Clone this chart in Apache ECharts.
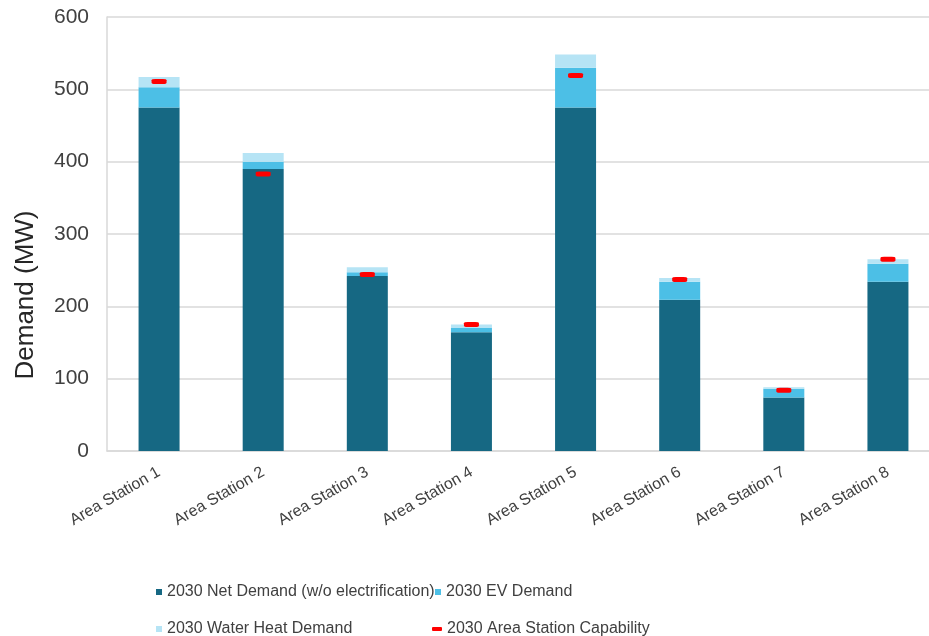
<!DOCTYPE html>
<html>
<head>
<meta charset="utf-8">
<title>2030 Area Station Demand</title>
<script src="https://cdn.jsdelivr.net/npm/echarts@6/dist/echarts.min.js"></script>
<style>
  html, body { margin: 0; padding: 0; background: #ffffff; overflow: hidden; }
  /* The plot area runs a little past the right edge of the window */
  #chart { width: 940px; height: 636px; }
</style>
</head>
<body>
<div id="chart"></div>
<script>
// Area stations and their 2030 demand components (MW)
const categories = ['Area Station 1', 'Area Station 2', 'Area Station 3', 'Area Station 4',
                    'Area Station 5', 'Area Station 6', 'Area Station 7', 'Area Station 8'];
const netDemand  = [475, 390, 242, 164, 475, 209, 74, 234];
const evDemand   = [28, 10, 5, 6, 55, 25, 12, 25];
const waterHeat  = [14, 12, 7, 5, 18, 5, 2, 6];
const capability = [511, 383, 244, 175, 519, 237, 84, 265];
const yTicks = { min: 0, max: 600, interval: 100 };

const FONT = '"Liberation Sans", Arial, sans-serif';
const TEXT = '#404040';

const names = {
  net: '2030 Net Demand (w/o electrification)',
  ev: '2030 EV Demand',
  water: '2030 Water Heat Demand',
  cap: '2030 Area Station Capability'
};
const colors = { net: '#166883', ev: '#4cbfe6', water: '#b6e4f5', cap: '#ff0000' };

// One legend entry per block so the two rows line up as columns
function legendEntry(name, left, top, icon, w, h) {
  return {
    left: left,
    top: top,
    itemWidth: w,
    itemHeight: h,
    selectedMode: false,
    data: [{ name: name, icon: icon }],
    textStyle: { fontFamily: FONT, fontSize: 16, color: TEXT }
  };
}

const chart = echarts.init(document.getElementById('chart'), null, { renderer: 'canvas' });

chart.setOption({
  animation: false,
  backgroundColor: '#ffffff',
  grid: { left: 107, top: 17, bottom: 185, right: 0, containLabel: false },
  legend: [
    legendEntry(names.net, 151, 579, 'rect', 6, 6),
    legendEntry(names.ev, 430, 579, 'rect', 6, 6),
    legendEntry(names.water, 151, 616, 'rect', 6, 6),
    legendEntry(names.cap, 427, 616, 'roundRect', 10, 4)
  ],
  xAxis: {
    type: 'category',
    data: categories,
    axisLine: { show: true, lineStyle: { color: '#d9d9d9', width: 1.5 } },
    axisTick: { show: false },
    axisLabel: {
      rotate: 30,
      margin: 20,
      interval: 0,
      fontFamily: FONT,
      fontSize: 16,
      color: TEXT
    }
  },
  yAxis: {
    type: 'value',
    min: yTicks.min,
    max: yTicks.max,
    interval: yTicks.interval,
    name: 'Demand (MW)',
    nameLocation: 'middle',
    nameGap: 68,
    nameTextStyle: { fontFamily: FONT, fontSize: 26, color: '#262626', padding: [0, 122, 0, 0] },
    axisLine: { show: true, lineStyle: { color: '#d9d9d9', width: 1.5 } },
    axisTick: { show: false },
    axisLabel: { margin: 18, fontFamily: FONT, fontSize: 21, color: TEXT },
    splitLine: { lineStyle: { color: '#d9d9d9', width: 1.5 } }
  },
  series: [
    {
      name: names.net,
      type: 'bar',
      stack: 'demand',
      barWidth: 41,
      itemStyle: { color: colors.net },
      data: netDemand
    },
    {
      name: names.ev,
      type: 'bar',
      stack: 'demand',
      barWidth: 41,
      itemStyle: { color: colors.ev },
      data: evDemand
    },
    {
      name: names.water,
      type: 'bar',
      stack: 'demand',
      barWidth: 41,
      itemStyle: { color: colors.water },
      data: waterHeat
    },
    {
      name: names.cap,
      type: 'scatter',
      symbol: 'roundRect',
      symbolSize: [15, 5],
      itemStyle: { color: colors.cap, opacity: 1 },
      z: 5,
      data: capability
    }
  ]
});
</script>
</body>
</html>
